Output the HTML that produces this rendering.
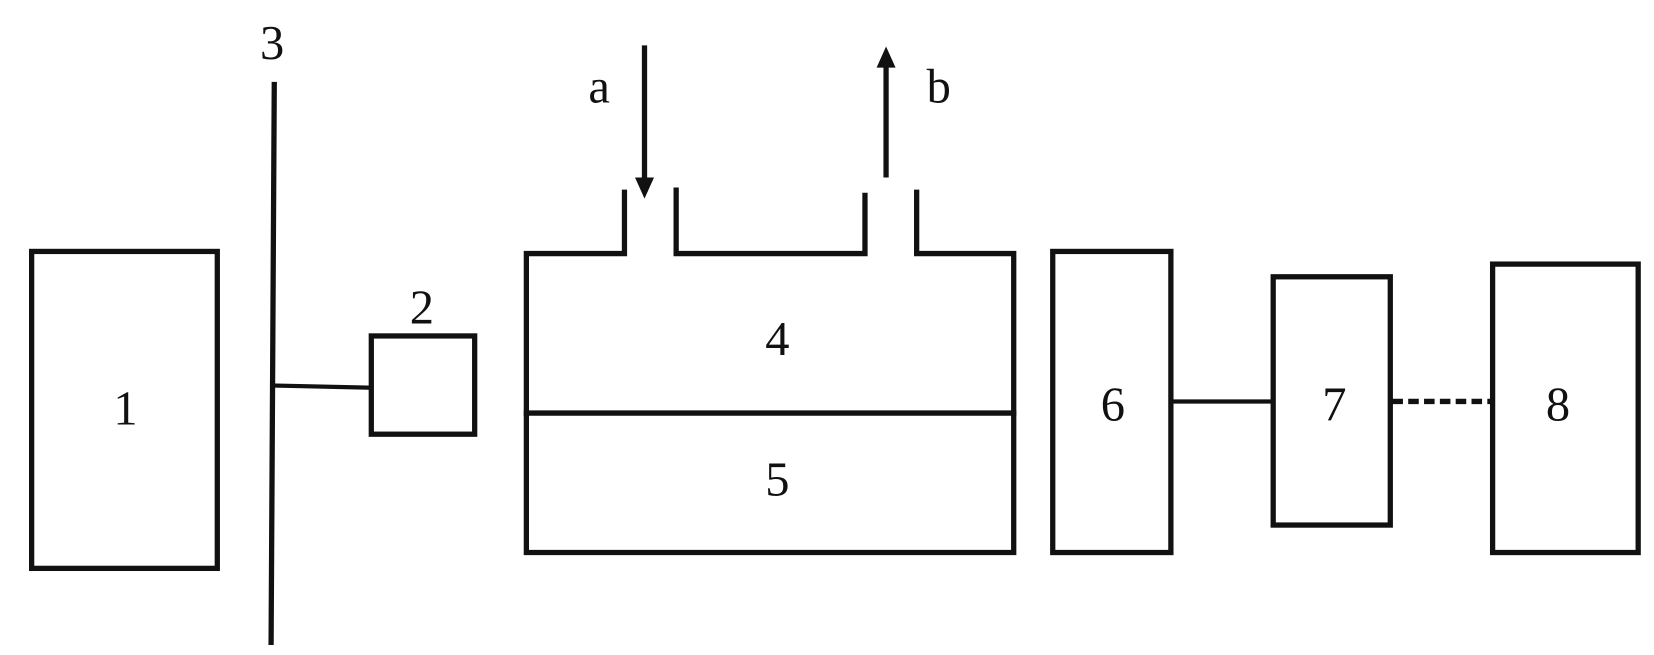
<!DOCTYPE html>
<html><head><meta charset="utf-8"><style>html,body{margin:0;padding:0;background:#fff}svg{display:block}</style></head>
<body>
<svg width="1654" height="655" viewBox="0 0 1568 620" preserveAspectRatio="none" xmlns="http://www.w3.org/2000/svg">
<g fill="none" stroke="#111" stroke-width="5" stroke-linecap="square">
<rect x="30" y="238" width="176" height="300"/>
<line x1="260" y1="80" x2="257" y2="608"/>
<line x1="262" y1="365" x2="352" y2="367" stroke-width="4"/>
<rect x="352" y="318" width="98" height="93"/>
<polyline points="592,182 592,240 499,240 499,523 961,523 961,240 869,240 869,182"/>
<polyline points="641,180 641,240 820,240 820,185"/>
<line x1="499" y1="391" x2="961" y2="391"/>
<rect x="998" y="238" width="112" height="285"/>
<line x1="1110" y1="380" x2="1207" y2="380" stroke-width="4"/>
<rect x="1207" y="262" width="111" height="235"/>
<line x1="1320" y1="380" x2="1413" y2="380" stroke-dasharray="10,5" stroke-linecap="butt"/>
<rect x="1415" y="250" width="138" height="273"/>
<line x1="611" y1="43" x2="611" y2="172" stroke-linecap="butt"/>
<line x1="840" y1="62" x2="840" y2="168" stroke-linecap="butt"/>
</g>
<polygon points="602,168 620,168 611,188" fill="#111"/>
<polygon points="831,64 849,64 840,44" fill="#111"/>
<g font-family="Liberation Serif, serif" font-size="46" fill="#111" text-anchor="middle">
<text x="119" y="402">1</text>
<text x="400" y="306">2</text>
<text x="258" y="56">3</text>
<text x="737" y="336">4</text>
<text x="737" y="469">5</text>
<text x="1055" y="398">6</text>
<text x="1265" y="398">7</text>
<text x="1477" y="398">8</text>
<text x="568" y="97">a</text>
<text x="890" y="97">b</text>
</g>
</svg>
</body></html>
